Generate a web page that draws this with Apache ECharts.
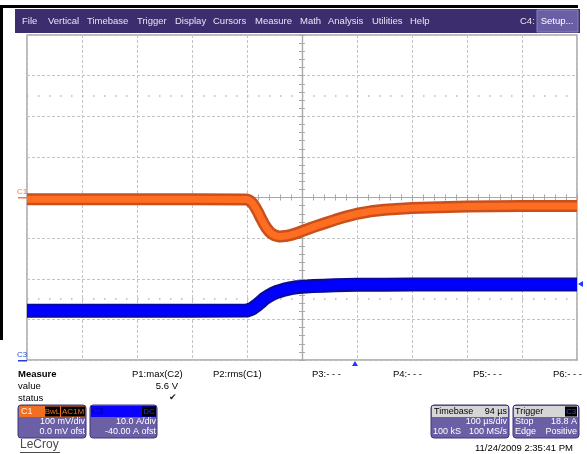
<!DOCTYPE html>
<html><head><meta charset="utf-8">
<script src="https://cdn.jsdelivr.net/npm/echarts@6/dist/echarts.min.js"></script>
<style>html,body{margin:0;padding:0;background:#fff;}#c{width:587px;height:454px;}</style>
</head><body><div id="c"></div>
<script>
// time in µs from left edge of screen (100 µs/div, 10 div)
const timeUs = [0,100,200,300,400,405,410,415,420,425,430,435,440,445,450,455,460,470,480,490,500,520,540,560,580,600,625,650,700,750,800,900,1000];
// C1 (mV, 100 mV/div, 0 mV offset)
const c1mV   = [-4,-4,-4,-4,-5,-8,-14,-24,-36,-50,-63,-74,-83,-89,-93,-95,-96,-95,-92,-88,-83,-73,-64,-55,-47,-40,-34,-30,-26,-24,-22,-21,-21];
// C3 (A, 10 A/div, -40 A offset)
const c3A    = [12.1,12.1,12.1,12.1,12.2,12.4,12.7,13.2,13.7,14.3,14.9,15.4,15.8,16.2,16.5,16.8,17.0,17.4,17.7,17.9,18.0,18.2,18.3,18.4,18.45,18.5,18.5,18.55,18.6,18.6,18.6,18.6,18.6];
const menuItems = ["File","Vertical","Timebase","Trigger","Display","Cursors","Measure","Math","Analysis","Utilities","Help"];
const menuX = [22,48,87,137,175,213,255,300,328,372,410];
const paramLabels = ["P1:max(C2)","P2:rms(C1)","P3:- - -","P4:- - -","P5:- - -","P6:- - -"];
const paramX = [132,213,312,393,473,553];

const pairs = a => timeUs.map((t,i)=>[t,a[i]]);
const FONT = '"Liberation Sans", Arial, sans-serif';
const BOX = '#6b60a6', BOXS = '#3f3478';
function txt(t,x,y,o){o=o||{};return {type:'text',silent:true,z:100,style:{text:t,x:x,y:y,fill:o.fill||'#000',font:(o.bold?'bold ':'')+(o.size||9.5)+'px '+FONT,align:o.align||'left',verticalAlign:'middle'}};}
function rect(x,y,w,h,fill,o){o=o||{};return {type:'rect',silent:true,z:90,shape:{x:x,y:y,width:w,height:h,r:o.r||0},style:{fill:fill,stroke:o.stroke||null,lineWidth:o.lw||1}};}

const g = [];
// top black line & left strip
g.push(rect(0,5,578,3,'#000'));
g.push(rect(0,5,3,335,'#000'));
// menu bar
g.push(rect(15,9,565,24,'#3c2e6e'));
menuItems.forEach((m,i)=>g.push(txt(m,menuX[i],21,{fill:'#e6e4f2',size:9.5})));
g.push(txt('C4:',520,21,{fill:'#e6e4f2'}));
g.push(rect(537,10,41,22,'#6a5fa5',{stroke:'#8a80c0'}));
g.push(txt('Setup...',557,21,{fill:'#fff',align:'center'}));
// channel markers
g.push(txt('C1',17,192,{fill:'#f07a3a',size:8}));
g.push(rect(18,197,9,1.5,'#f07a3a'));
g.push(txt('C3',17,355,{fill:'#3050e0',size:8}));
g.push(rect(18,360,9,1.5,'#2040e0'));
// trigger markers
g.push({type:'polygon',silent:true,z:95,shape:{points:[[352,366],[358,366],[355,361]]},style:{fill:'#1a3cff'}});
g.push({type:'polygon',silent:true,z:95,shape:{points:[[583,281],[583,287],[578,284]]},style:{fill:'#1a3cff'}});
// measure table
g.push(txt('Measure',18,374,{bold:true,size:9.5}));
g.push(txt('value',18,386));
g.push(txt('status',18,398));
paramLabels.forEach((p,i)=>g.push(txt(p,paramX[i],374)));
g.push(txt('5.6 V',178,386,{align:'right'}));
g.push(txt('\u2714',173,398,{align:'center',fill:'#222',size:9}));
// C1 box
g.push(rect(18,405,68,33,BOX,{r:3,stroke:BOXS}));
g.push(rect(19,406,66,11,'#f26f21'));
g.push(txt('C1',21,411.5,{fill:'#fff4e8',size:9}));
g.push(rect(45,406.5,15,10,'#000'));
g.push(txt('BwL',52.5,411.5,{fill:'#f26f21',align:'center',size:8}));
g.push(rect(61,406.5,24,10,'#000'));
g.push(txt('AC1M',73,411.5,{fill:'#f26f21',align:'center',size:8}));
g.push(txt('100 mV/div',85,422,{fill:'#fff',align:'right',size:9}));
g.push(txt('0.0 mV ofst',85,432,{fill:'#fff',align:'right',size:9}));
// C3 box
g.push(rect(90,405,67,33,BOX,{r:3,stroke:BOXS}));
g.push(rect(91,406,65,11,'#0a00ff'));
g.push(txt('C3',92,411.5,{fill:'#000070',size:9}));
g.push(rect(142,406.5,14,10,'#000'));
g.push(txt('DC',149,411.5,{fill:'#2030ff',align:'center',size:8}));
g.push(txt('10.0 A/div',156,422,{fill:'#fff',align:'right',size:9}));
g.push(txt('-40.00 A ofst',156,432,{fill:'#fff',align:'right',size:9}));
// LeCroy logo
g.push(txt('LeCroy',20,445,{fill:'#4a4a4a',size:12}));
g.push(rect(20,452,40,1,'#4a4a4a'));
// Timebase box
g.push(rect(431,405,78,33,BOX,{r:3,stroke:BOXS}));
g.push(rect(432,406,76,11,'#d6d6d6'));
g.push(txt('Timebase',434,411.5,{size:9}));
g.push(txt('94 \u00b5s',507,411.5,{align:'right',size:9}));
g.push(txt('100 \u00b5s/div',507,422,{fill:'#fff',align:'right',size:9}));
g.push(txt('100 kS',433,432,{fill:'#fff',size:9}));
g.push(txt('100 MS/s',507,432,{fill:'#fff',align:'right',size:9}));
// Trigger box
g.push(rect(513,405,66,33,BOX,{r:3,stroke:BOXS}));
g.push(rect(514,406,64,11,'#d6d6d6'));
g.push(txt('Trigger',515,411.5,{size:9}));
g.push(rect(565,406.5,12,10,'#000'));
g.push(txt('C3',571,411.5,{fill:'#3050ff',align:'center',size:8}));
g.push(txt('Stop',515,422,{fill:'#fff',size:9}));
g.push(txt('18.8 A',577,422,{fill:'#fff',align:'right',size:9}));
g.push(txt('Edge',515,432,{fill:'#fff',size:9}));
g.push(txt('Positive',577,432,{fill:'#fff',align:'right',size:9}));
// timestamp
g.push(txt('11/24/2009 2:35:41 PM',573,448,{align:'right',size:9.5}));

const hidden = {show:false};
const dashed = {show:true,lineStyle:{color:'#c4c4c4',width:1,type:[3,2]}};
const centerLine = {show:true,lineStyle:{color:'#a8a8a8',width:1.2}};
const centerTick = {show:true,length:3,lineStyle:{color:'#a8a8a8',width:1}};

const chart = echarts.init(document.getElementById('c'),null,{renderer:'canvas'});
chart.setOption({
  animation:false,
  backgroundColor:'#fff',
  grid:{left:27,top:35,width:550,height:325,show:true,borderColor:'#a4a4a4',borderWidth:1.5,backgroundColor:'#fff'},
  xAxis:[
    {type:'value',min:0,max:1000,interval:100,axisLine:hidden,axisTick:hidden,axisLabel:hidden,splitLine:dashed},
    {type:'value',min:0,max:1000,interval:20,position:'bottom',offset:-162.5,axisLine:centerLine,axisTick:centerTick,axisLabel:hidden,splitLine:hidden},
    {type:'value',min:0,max:1000,interval:20,position:'top',offset:-162.5,axisLine:centerLine,axisTick:centerTick,axisLabel:hidden,splitLine:hidden}
  ],
  yAxis:[
    {type:'value',min:-400,max:400,interval:100,axisLine:hidden,axisTick:hidden,axisLabel:hidden,splitLine:dashed},
    {type:'value',min:0,max:80,interval:10,axisLine:hidden,axisTick:hidden,axisLabel:hidden,splitLine:hidden},
    {type:'value',min:-400,max:400,interval:20,position:'left',offset:-275,axisLine:centerLine,axisTick:centerTick,axisLabel:hidden,splitLine:hidden},
    {type:'value',min:-400,max:400,interval:20,position:'right',offset:-275,axisLine:centerLine,axisTick:centerTick,axisLabel:hidden,splitLine:hidden}
  ],
  series:[
    {type:'line',name:'C1 edge',xAxisIndex:0,yAxisIndex:0,data:pairs(c1mV),showSymbol:false,z:3,
     lineStyle:{color:'#c9501a',width:12,join:'round'},
     markLine:{silent:true,symbol:'none',label:{show:false},lineStyle:{color:'#b8b8b8',width:1.5,type:[1.5,9.5]},data:[{yAxis:250},{yAxis:-250}],z:1}},
    {type:'line',name:'C1',xAxisIndex:0,yAxisIndex:0,data:pairs(c1mV),showSymbol:false,z:4,
     lineStyle:{color:'#ff6d22',width:7,join:'round'}},
    {type:'line',name:'C3 edge',xAxisIndex:0,yAxisIndex:1,data:pairs(c3A),showSymbol:false,z:3,
     lineStyle:{color:'#0a0a9a',width:14,join:'round'}},
    {type:'line',name:'C3',xAxisIndex:0,yAxisIndex:1,data:pairs(c3A),showSymbol:false,z:4,
     lineStyle:{color:'#0000ff',width:10,join:'round'}}
  ],
  graphic:g
});
</script></body></html>
